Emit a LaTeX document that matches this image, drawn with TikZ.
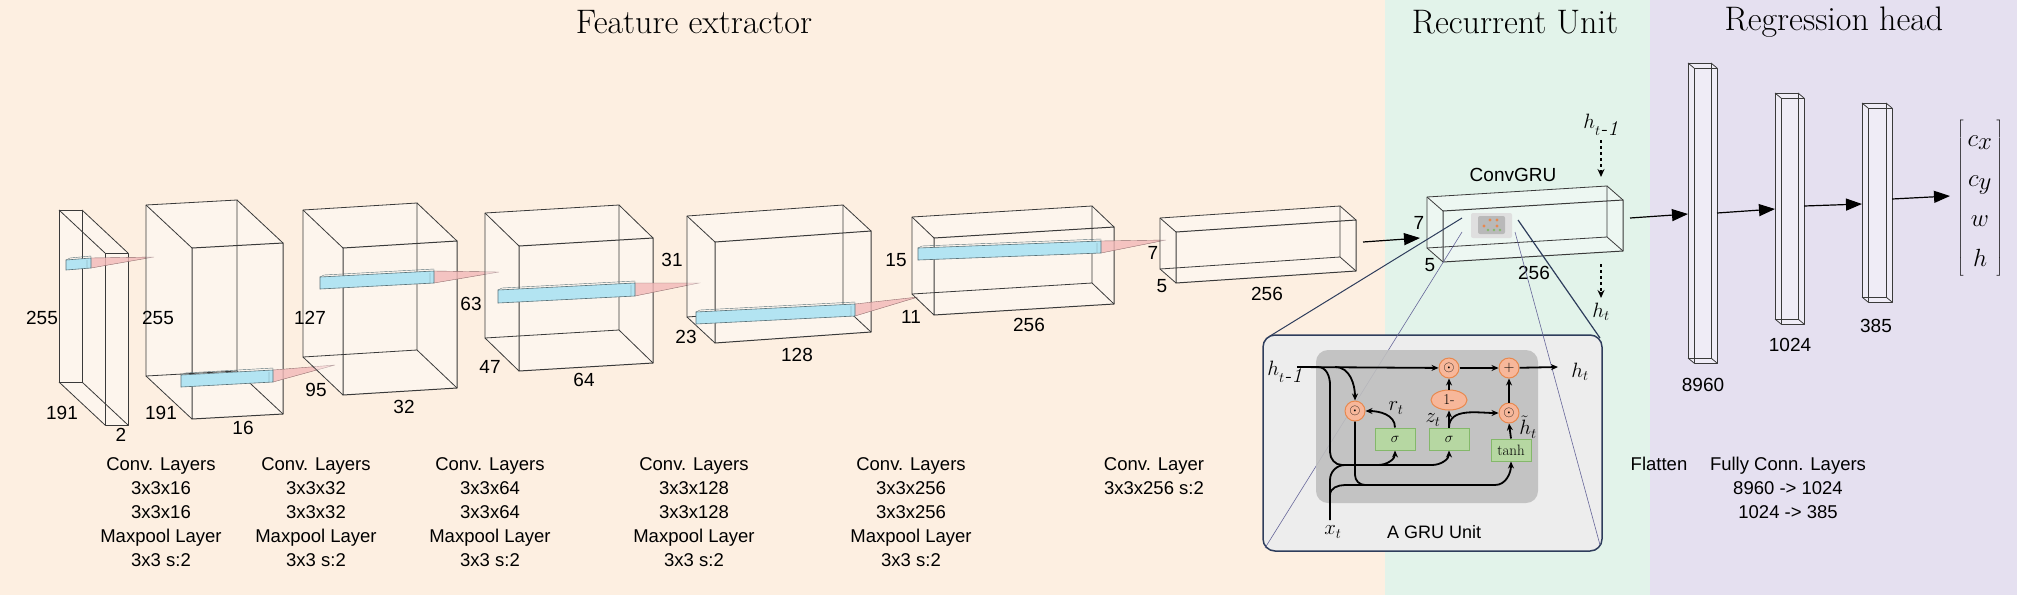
\documentclass[tikz,border=0pt]{standalone}
\usepackage{fontspec}
\newfontfamily\sfx{Liberation Sans}
\usetikzlibrary{arrows.meta,shapes.geometric,calc}
\definecolor{bgO}{HTML}{FDEFE1}
\definecolor{bgG}{HTML}{E2F3EA}
\definecolor{bgP}{HTML}{E5E0F0}
\definecolor{edgeC}{HTML}{3A3A3A}
\definecolor{cyanK}{HTML}{B3E4F2}
\definecolor{pinkK}{HTML}{F2B8B8}
\definecolor{opO}{HTML}{F7B79A}
\definecolor{opB}{HTML}{E8884E}
\definecolor{grF}{HTML}{B6D7A2}
\definecolor{grB}{HTML}{84B86A}
\definecolor{navy}{HTML}{2E3D5C}
\newcommand\cub[7]{%
 \fill[white,opacity=0.4] (#1,#2) -- ++(#3,-#7) -- ++(#5,#6) -- ++(0,#4) -- ++(-#3,#7) -- ++(-#5,-#6) -- cycle;
 \draw[edgeC,line width=0.8pt,line join=round] (#1,#2) -- ++(#3,-#7) -- ++(0,#4) -- ++(-#3,#7) -- cycle;
 \draw[edgeC,line width=1pt,line join=round] (#1+#5,#2+#6) -- ++(#3,-#7) -- ++(0,#4) -- ++(-#3,#7) -- cycle;
 \draw[edgeC,line width=0.8pt] (#1,#2) -- ++(#5,#6) (#1+#3,#2-#7) -- ++(#5,#6)
   (#1+#3,#2-#7+#4) -- ++(#5,#6) (#1,#2+#4) -- ++(#5,#6);}
\newcommand\kernbar[7]{%
 \fill[pinkK,opacity=0.8] (#3,#4) -- (#6,#7) -- (#3,#4+#5) -- cycle;
 \draw[pinkK!60!black,line width=0.4pt] (#3,#4) -- (#6,#7) -- (#3,#4+#5);
 \filldraw[fill=cyanK,draw=cyanK!50!black,line width=0.6pt] (#1,#2) -- (#3,#4) -- (#3,#4+#5) -- (#1,#2+#5) -- cycle;
 \draw[cyanK!50!black,line width=0.4pt] (#1+4,#2-2) -- (#3,#4-2) -- (#3,#4) (#1,#2) -- (#1+4,#2-2) (#3-4,#4+2) -- (#3-4,#4+#5);}
\tikzset{
 lab/.style={font=\sfx\fontsize{19}{19}\selectfont,inner sep=0pt},
 capt/.style={font=\sfx\fontsize{18.5}{24}\selectfont,align=center,inner sep=0pt,anchor=north},
 ttl/.style={font=\fontsize{34}{34}\selectfont,inner sep=0pt},
 arr/.style={-{Triangle[length=16pt,width=12pt]},line width=1.2pt},
 op/.style={circle,fill=opO,draw=opB,line width=1pt,minimum size=20pt,inner sep=0pt,font=\fontsize{15}{15}\selectfont},
 gbox/.style={rectangle,fill=grF,draw=grB,line width=1pt,minimum width=40pt,minimum height=22pt,inner sep=0pt,font=\fontsize{15}{15}\selectfont},
 wire/.style={line width=1.8pt,black},
 warr/.style={wire,-{Stealth[length=7pt,width=6pt]}},
 ml/.style={font=\fontsize{21}{21}\selectfont,inner sep=0pt}
}
\begin{document}
\begin{tikzpicture}[x=1pt,y=-1pt]
\useasboundingbox (0,0) rectangle (2017,595);
\fill[bgO] (0,0) rectangle (1385,595);
\fill[bgG] (1385,0) rectangle (1650,595);
\fill[bgP] (1650,0) rectangle (2017,595);
\node[ttl] (t1) at (694,22) {Feature extractor};
\node[ttl] (t2) at (1515,22) {Recurrent Unit};
\node[ttl] (t3) at (1834,22) {Regression head};

% cuboids
\cub{59}{210}{23}{172}{46}{43}{0}
\kernbar{66}{260}{91}{258}{10}{154}{257}
\cub{146}{205}{91}{171}{46}{43}{5}
\kernbar{181}{375}{273}{370}{12}{335}{365}
\cub{303}{210}{114}{147}{40}{38}{7}
\kernbar{320}{277}{434}{271}{12}{499}{272}
\cub{485}{213}{134}{125}{34}{33}{8}
\kernbar{498}{290}{635}{283}{13}{699}{283}
\cub{687}{216}{156}{101}{28}{26}{11}
\kernbar{696}{312}{855}{304}{12}{918}{297}
\cub{912}{217}{180}{77}{22}{21}{11}
\kernbar{918}{248}{1101}{241}{12}{1166}{240}
\cub{1160}{218}{180}{51}{16}{14}{12}
\cub{1427}{197}{180}{51}{16}{14}{11}
% ConvGRU icon
\fill[gray!25,rounded corners=2pt] (1471,213) rectangle (1512,238);
\fill[gray!55,rounded corners=2pt] (1478,216) rectangle (1505,234);
\foreach \p in {(1490,220),(1497,220),(1484,226),(1497,226)} \fill[opB] \p circle (1.6);
\foreach \p in {(1488,230),(1494,230),(1500,230)} \fill[grB] \p circle (1.4);

% dims
\node[lab] (d1) at (42,318) {255}; \node[lab] (d2) at (62,413) {191}; \node[lab] (d3) at (121,435) {2};
\node[lab] (d4) at (158,318) {255}; \node[lab] (d5) at (161,413) {191}; \node[lab] (d6) at (243,428) {16};
\node[lab] (d7) at (310,318) {127}; \node[lab] (d8) at (316,390) {95}; \node[lab] (d9) at (404,407) {32};
\node[lab] (d10) at (471,304) {63}; \node[lab] (d11) at (490,367) {47}; \node[lab] (d12) at (584,380) {64};
\node[lab] (d13) at (672,260) {31}; \node[lab] (d14) at (686,337) {23}; \node[lab] (d15) at (797,355) {128};
\node[lab] (d16) at (896,260) {15}; \node[lab] (d17) at (911,317) {11}; \node[lab] (d18) at (1029,325) {256};
\node[lab] (d19) at (1153,253) {7}; \node[lab] (d20) at (1162,286) {5}; \node[lab] (d21) at (1267,294) {256};
\node[lab] (d22) at (1419,223) {7}; \node[lab] (d23) at (1430,265) {5}; \node[lab] (d24) at (1534,273) {256};
\node[lab] (cg) at (1513,175) {ConvGRU};
\node[ml] (htm) at (1601,125) {$h_{t\textit{-1}}$};
\node[ml] (htp) at (1601,312) {$h_t$};
\coordinate (a1) at (1601,140); \coordinate (a2) at (1601,177);
\coordinate (b1) at (1601,264); \coordinate (b2) at (1601,298);
\draw[dashed,line width=1.2pt,-{Stealth[length=8pt,width=7pt]}] (a1) -- (a2);
\draw[dashed,line width=1.2pt,-{Stealth[length=8pt,width=7pt]}] (b1) -- (b2);

% captions
\node[capt] (c1) at (161,457) {Conv. Layers\\3x3x16\\3x3x16\\Maxpool Layer\\3x3 s:2};
\node[capt] (c2) at (316,457) {Conv. Layers\\3x3x32\\3x3x32\\Maxpool Layer\\3x3 s:2};
\node[capt] (c3) at (490,457) {Conv. Layers\\3x3x64\\3x3x64\\Maxpool Layer\\3x3 s:2};
\node[capt] (c4) at (694,457) {Conv. Layers\\3x3x128\\3x3x128\\Maxpool Layer\\3x3 s:2};
\node[capt] (c5) at (911,457) {Conv. Layers\\3x3x256\\3x3x256\\Maxpool Layer\\3x3 s:2};
\node[capt] (c6) at (1154,457) {Conv. Layer\\3x3x256 s:2};
\node[capt] (c7) at (1659,457) {Flatten};
\node[capt] (c8) at (1788,457) {Fully Conn. Layers\\8960 -> 1024\\1024 -> 385};

% GRU inset projection lines
\draw[navy,line width=1pt] (1462,218) -- (1270,336);
\draw[navy,line width=1.2pt] (1518,220) -- (1600,338);
\filldraw[fill=gray!14,draw=navy,line width=1.5pt,rounded corners=12pt] (1263,335) rectangle (1602,551);
\draw[gray!80!blue,line width=0.6pt] (1462,232) -- (1265,548);
\draw[gray!80!blue,line width=0.6pt] (1515,232) -- (1600,545);
\fill[gray!50,opacity=0.9,rounded corners=12pt] (1316,350) rectangle (1538,503);
\node[op] (o1) at (1449,368) {$\odot$};
\node[op] (pl) at (1509,368) {$+$};
\node[op] (or) at (1355,411) {$\odot$};
\node[ellipse,fill=opO,draw=opB,line width=1pt,minimum width=36pt,minimum height=20pt,inner sep=0pt,font=\fontsize{15}{15}\selectfont] (om) at (1449,400) {1-};
\node[op] (o3) at (1509,413) {$\odot$};
\node[gbox] (s1) at (1395,439) {$\sigma$};
\node[gbox] (s2) at (1449,439) {$\sigma$};
\node[gbox] (th) at (1511,450) {tanh};
\node[ml] (hin) at (1285,372) {$h_{t\textit{-1}}$};
\node[ml] (hout) at (1580,372) {$h_t$};
\node[ml] (xt) at (1333,532) {$x_t$};
\node[ml] (rt) at (1396,408) {$r_t$};
\node[ml] (zt) at (1433,420) {$z_t$};
\node[ml] (ht) at (1528,427) {$\tilde{h}_t$};
\node[font=\sfx\fontsize{18}{18}\selectfont] (gu) at (1434,532) {A GRU Unit};
\coordinate (hs) at (1297,367);
\coordinate (he) at (1558,367);
\coordinate (xs) at (1330,520);
\draw[warr] (hs) -- (o1);
\draw[warr] (o1) -- (pl);
\draw[warr] (pl) -- (he);
\draw[warr] (1335,367) to[out=0,in=90] (or.north);
\draw[wire] (1318,367) to[out=0,in=90] (1330,385) -- (1330,452) to[out=-90,in=180] (1342,465) -- (1378,465);
\draw[warr] (1378,465) to[out=0,in=-90] (s1.south);
\draw[warr] (1378,465) -- (1432,465) to[out=0,in=-90] (s2.south);
\draw[wire] (xs) -- (1330,480) to[out=90,in=180] (1345,465);
\draw[wire] (1330,495) to[out=90,in=180] (1345,485) -- (1495,485);
\draw[wire] (or.south) -- (1355,475) to[out=-90,in=180] (1365,485);
\draw[warr] (1495,485) to[out=0,in=-90] (th.south);
\draw[warr] (s1.north) to[out=90,in=0] (or.east);
\draw[warr] (s2.north) -- (om.south);
\draw[warr] (om.north) -- (o1.south);
\draw[warr] (s2.north) to[out=90,in=180] (o3.west);
\draw[warr] (th.north) -- (o3.south);
\draw[warr] (o3.north) -- (pl.south);

% arrows main
\coordinate (m1) at (1363,242); \coordinate (m2) at (1420,238);
\draw[arr] (m1) -- (m2);
% dense layers
\cub{1688}{63}{23}{295}{6}{5}{0}
\cub{1775}{93}{23}{226}{6}{5}{0}
\cub{1862}{103}{24}{194}{6}{5}{0}
\node[lab] (n1) at (1703,385) {8960};
\node[lab] (n2) at (1790,345) {1024};
\node[lab] (n3) at (1876,326) {385};
\coordinate (g1) at (1630,218); \coordinate (g2) at (1688,214);
\coordinate (g3) at (1717,213); \coordinate (g4) at (1775,209);
\coordinate (g5) at (1804,206); \coordinate (g6) at (1862,204);
\coordinate (g7) at (1892,199); \coordinate (g8) at (1950,196);
\draw[arr] (g1) -- (g2); \draw[arr] (g3) -- (g4); \draw[arr] (g5) -- (g6); \draw[arr] (g7) -- (g8);
\node[font=\fontsize{44}{40}\selectfont,inner sep=0pt] (vec) at (1980,198) {$\left[\begin{array}{@{\,}c@{\,}}c_x\\c_y\\w\\h\end{array}\right]$};
\end{tikzpicture}
\end{document}
